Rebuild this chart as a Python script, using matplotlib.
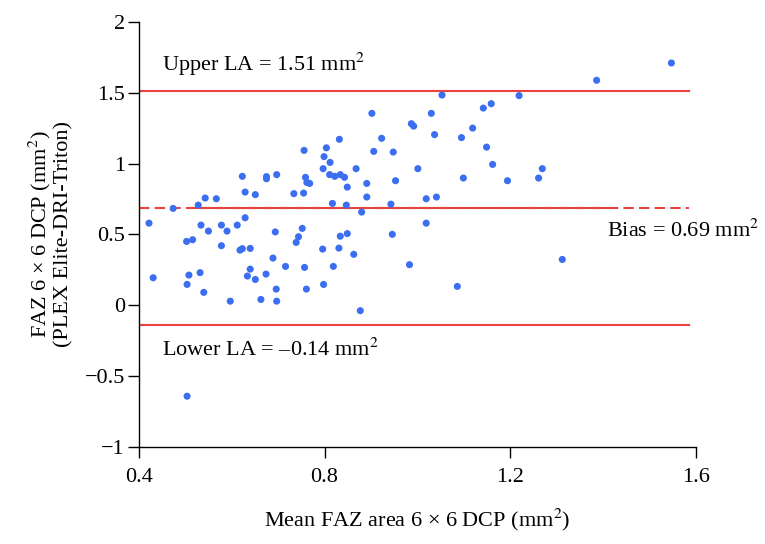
import numpy as np
import matplotlib
matplotlib.use("Agg")
import matplotlib.pyplot as plt
from matplotlib.ticker import FuncFormatter

plt.rcParams['font.family'] = ['Liberation Serif', 'DejaVu Serif']
plt.rcParams['mathtext.fontset'] = 'stix'

# Bland-Altman data: mean FAZ area vs difference (mm^2)
mean_faz = [
    0.422, 0.474, 0.528, 0.543, 0.567, 0.534, 0.550, 0.578, 0.590, 0.612,
    0.629, 0.623, 0.629, 0.651, 0.675, 0.675, 0.697, 0.694, 0.734, 0.755,
    0.756, 0.759, 0.762, 0.768, 0.752, 0.744, 0.739, 0.503, 0.516, 0.804,
    0.799, 0.797, 0.812, 0.811, 0.822, 0.834, 0.843, 0.849, 0.832, 0.817,
    0.847, 0.868, 0.902, 0.906, 0.891, 0.891, 0.880, 0.923, 0.948, 0.953,
    0.943, 0.946, 0.834, 0.849, 0.987, 0.992, 1.001, 1.019, 1.019, 1.041,
    1.030, 1.037, 1.053, 1.095, 1.099, 1.119, 1.142, 1.159, 1.149, 1.162,
    1.194, 1.219, 1.386, 1.547, 1.261, 1.269, 0.578, 0.618, 0.623, 0.640,
    0.689, 0.716, 0.757, 0.796, 0.798, 0.431, 0.508, 0.504, 0.532, 0.540,
    0.597, 0.640, 0.634, 0.651, 0.674, 0.696, 0.663, 0.697, 0.761, 0.504,
    0.831, 0.863, 0.819, 0.983, 1.086, 0.877, 1.312,
]
diff_faz = [
    0.580, 0.684, 0.707, 0.757, 0.752, 0.566, 0.524, 0.566, 0.524, 0.566,
    0.618, 0.910, 0.799, 0.781, 0.908, 0.893, 0.922, 0.518, 0.788, 0.792,
    1.093, 0.903, 0.867, 0.860, 0.543, 0.484, 0.444, 0.451, 0.463, 1.111,
    1.049, 0.964, 1.008, 0.922, 0.910, 0.922, 0.903, 0.834, 1.171, 0.719,
    0.707, 0.964, 1.354, 1.086, 0.860, 0.764, 0.658, 1.178, 1.081, 0.879,
    0.714, 0.501, 0.488, 0.506, 1.281, 1.264, 0.964, 0.752, 0.580, 0.764,
    1.354, 1.204, 1.483, 1.183, 0.898, 1.250, 1.391, 1.422, 1.116, 0.994,
    0.879, 1.479, 1.587, 1.709, 0.898, 0.964, 0.421, 0.390, 0.400, 0.402,
    0.334, 0.275, 0.268, 0.397, 0.148, 0.195, 0.214, 0.148, 0.231, 0.092,
    0.030, 0.256, 0.207, 0.183, 0.221, 0.115, 0.042, 0.030, 0.115, -0.640,
    0.404, 0.360, 0.275, 0.287, 0.134, -0.037, 0.324,
]

bias = 0.69
upper_la = 1.51
lower_la = -0.14

red = '#e8443f'
blue = '#3b6ef0'
fs = 16

fig = plt.figure(figsize=(7.65, 5.44), dpi=100)
ax = fig.add_axes([0.1814, 0.1778, 0.7284, 0.7823])

# limits of agreement and bias
line_end = 1.585
ax.plot([0.4, line_end], [upper_la, upper_la], color=red, lw=1.5, zorder=1)
ax.plot([0.4, line_end], [lower_la, lower_la], color=red, lw=1.5, zorder=1)
ax.plot([0.4, line_end], [bias, bias], color=red, lw=1.5, ls=(0, (5, 2.5)), zorder=1)
ax.plot([0.517, 1.413], [bias, bias], color=red, lw=1.5, zorder=1)

ax.scatter(mean_faz, diff_faz, s=26, color=blue, edgecolors='none', zorder=2)

ax.text(0.45, 1.657, 'Upper LA = 1.51 mm$^2$', fontsize=fs, va='baseline', ha='left')
ax.text(1.409, 0.482, 'Bias = 0.69 mm$^2$', fontsize=fs, va='baseline', ha='left',
        clip_on=False)
ax.text(0.451, -0.353, 'Lower LA = \u20130.14 mm$^2$', fontsize=fs, va='baseline', ha='left')

ax.set_xlim(0.4, 1.6)
ax.set_ylim(-1, 2)
ax.set_xticks([0.4, 0.8, 1.2, 1.6])
ax.set_yticks([-1, -0.5, 0, 0.5, 1, 1.5, 2])
fmt = FuncFormatter(lambda v, p: ('%g' % v).replace('-', '\u2212'))
ax.xaxis.set_major_formatter(fmt)
ax.yaxis.set_major_formatter(fmt)
ax.tick_params(direction='out', length=8, width=1, labelsize=fs)
ax.tick_params(axis='x', pad=7)
ax.tick_params(axis='y', pad=2)

for side in ['top', 'right']:
    ax.spines[side].set_visible(False)
for side in ['left', 'bottom']:
    ax.spines[side].set_linewidth(1)

ax.set_xlabel('Mean FAZ area 6 \u00d7 6 DCP (mm$^2$)', fontsize=fs, labelpad=14)
ax.set_ylabel('FAZ 6 \u00d7 6 DCP (mm$^2$)\n(PLEX Elite-DRI-Triton)', fontsize=fs,
              labelpad=8, linespacing=1.05)

fig.savefig('out.png', dpi=100)
